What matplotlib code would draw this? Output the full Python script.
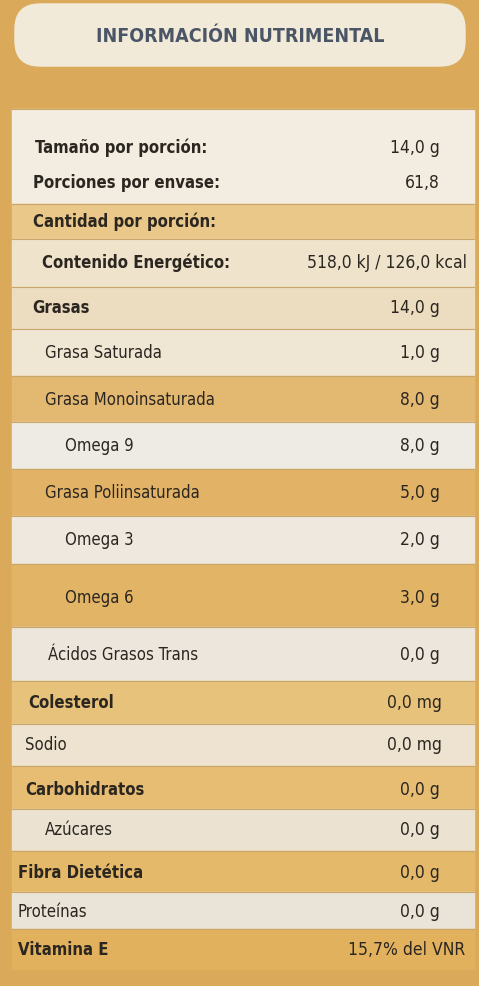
import matplotlib
matplotlib.use("Agg")
import matplotlib.pyplot as plt
from matplotlib.patches import Rectangle, FancyBboxPatch

title = "INFORMACIÓN NUTRIMENTAL"
labels = ["Tamaño por porción:", "Porciones por envase:", "Cantidad por porción:",
          "Contenido Energético:", "Grasas", "Grasa Saturada", "Grasa Monoinsaturada",
          "Omega 9", "Grasa Poliinsaturada", "Omega 3", "Omega 6", "Ácidos Grasos Trans",
          "Colesterol", "Sodio", "Carbohidratos", "Azúcares", "Fibra Dietética",
          "Proteínas", "Vitamina E"]
values = ["14,0 g", "61,8", "", "518,0 kJ / 126,0 kcal", "14,0 g", "1,0 g", "8,0 g",
          "8,0 g", "5,0 g", "2,0 g", "3,0 g", "0,0 g", "0,0 mg", "0,0 mg", "0,0 g",
          "0,0 g", "0,0 g", "0,0 g", "15,7% del VNR"]
bold = [1, 1, 1, 1, 1, 0, 0, 0, 0, 0, 0, 0, 1, 0, 1, 0, 1, 0, 1]
ys = [148, 183, 222, 263, 308, 353, 400, 446, 493, 540, 598, 655, 703, 745, 790, 830, 873, 912, 950]
xs = [35, 33, 33, 42, 32, 45, 45, 65, 45, 65, 65, 48, 28, 25, 25, 45, 18, 18, 18]
vx = [440, 440, 440, 467, 440, 440, 440, 440, 440, 440, 440, 440, 442, 442, 440, 440, 440, 440, 465]
bands = [(110, 205, "#f3ece0"), (205, 240, "#e9c889"), (240, 288, "#efe3cc"), (288, 330, "#ecdcc0"),
         (330, 377, "#f0e6d4"), (377, 423, "#e3b871"), (423, 470, "#eeeae4"), (470, 517, "#e2b366"),
         (517, 565, "#efe8df"), (565, 628, "#e2b466"), (628, 682, "#ece6dc"), (682, 725, "#e7c27a"),
         (725, 767, "#ede3d0"), (767, 810, "#e6bd72"), (810, 852, "#ebe2d2"), (852, 893, "#e5b96a"),
         (893, 930, "#eae3d8"), (930, 970, "#e2b15e")]

FAM = ["DejaVu Sans"]
fig = plt.figure(figsize=(4.79, 9.87), dpi=100)
ax = fig.add_axes([0, 0, 1, 1])
ax.set_xlim(0, 479); ax.set_ylim(987, 0); ax.axis("off")
ax.add_patch(Rectangle((0, 0), 479, 987, color="#dba95a", zorder=0))
ax.add_patch(FancyBboxPatch((15, 5), 450, 62, boxstyle="round,pad=0,rounding_size=25",
                            color="#f1ead9", zorder=1))
for y0, y1, c in bands:
    ax.add_patch(Rectangle((12, y0), 462, y1 - y0, color=c, zorder=1))
    ax.plot([12, 474], [y0, y0], color="#c9a66a", lw=0.8, zorder=2)
ax.text(240, 36, title, ha="center", va="center", fontsize=14, fontweight="bold",
        color="#4a5566", family=FAM, stretch="condensed", zorder=3)
for lab, val, b, y, x, v in zip(labels, values, bold, ys, xs, vx):
    fw = "bold" if b else "normal"
    ax.text(x, y, lab, ha="left", va="center", fontsize=12, fontweight=fw, color="#2b2620",
            family=FAM, stretch="condensed", zorder=3)
    ax.text(v, y, val, ha="right", va="center", fontsize=12.5, color="#2b2620",
            family=FAM, stretch="condensed", zorder=3)
fig.savefig("out.png", dpi=100)
